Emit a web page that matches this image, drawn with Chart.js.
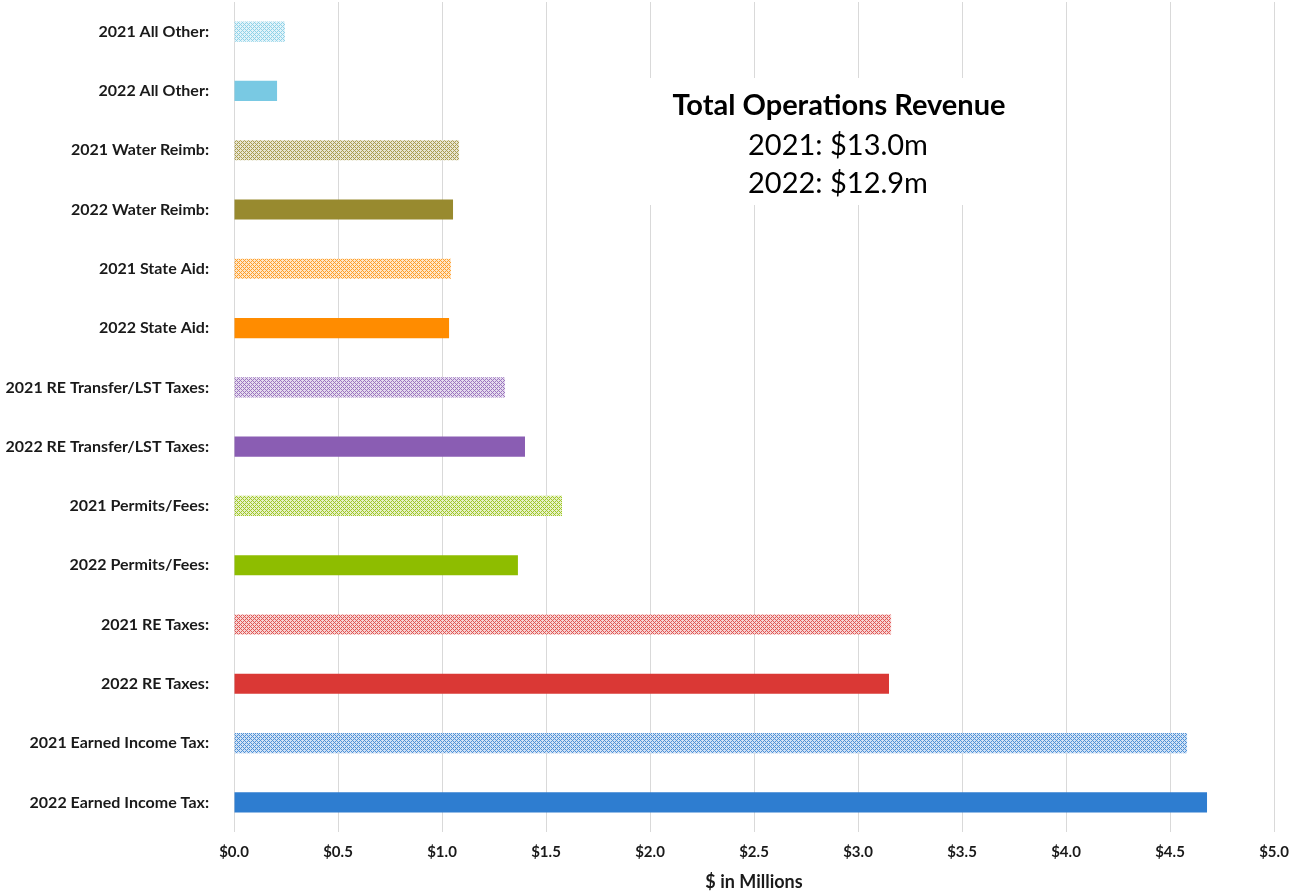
<!DOCTYPE html>
<html>
<head>
<meta charset="utf-8">
<script src="https://cdn.jsdelivr.net/npm/chart.js@4.4.0/dist/chart.umd.min.js"></script>
<style>
  html, body { margin: 0; padding: 0; background: #fff; }
  #wrap { width: 1300px; height: 896px; position: relative; }
</style>
</head>
<body>
<div id="wrap"><canvas id="revChart"></canvas></div>
<script>
// revenue by category, top to bottom
var categories = [
  '2021 All Other:', '2022 All Other:',
  '2021 Water Reimb:', '2022 Water Reimb:',
  '2021 State Aid:', '2022 State Aid:',
  '2021 RE Transfer/LST Taxes:', '2022 RE Transfer/LST Taxes:',
  '2021 Permits/Fees:', '2022 Permits/Fees:',
  '2021 RE Taxes:', '2022 RE Taxes:',
  '2021 Earned Income Tax:', '2022 Earned Income Tax:'
];
var values = [0.245, 0.207, 1.082, 1.053, 1.043, 1.034, 1.303, 1.399, 1.577, 1.365, 3.159, 3.149, 4.582, 4.678];
var xTicks = [0, 0.5, 1, 1.5, 2, 2.5, 3, 3.5, 4, 4.5, 5];
var boxLines = ['Total Operations Revenue', '2021: $13.0m', '2022: $12.9m'];

// colours per pair (2022 solid, 2021 hatched)
var pairColors = ['#79c9e3', '#988a2f', '#ff8c00', '#8a5db3', '#8ebd00', '#da3835', '#2e7dd0'];

function hatch(color){
    var c = document.createElement('canvas');
    c.width = 4; c.height = 4;
    var g = c.getContext('2d');
    g.fillStyle = '#ffffff';
    g.fillRect(0, 0, 4, 4);
    g.fillStyle = color;
    g.globalAlpha = 0.22;
    g.fillRect(0, 0, 4, 4);
    g.globalAlpha = 0.8;
    [[0,0],[1,1],[2,2],[3,3],[1,3],[3,1]].forEach(function(p){
        g.fillRect(p[0], p[1], 1, 1);
    });
    return g.createPattern(c, 'repeat');
}

var barColors = [];
pairColors.forEach(function(col){
    barColors.push(hatch(col));
    barColors.push(col);
});

var fontFam = 'Lato, "Open Sans", sans-serif';

// white text box with the totals
var totalsBox = {
    id: 'totalsBox',
    afterDatasetsDraw: function(chart){
        var ctx = chart.ctx;
        ctx.save();
        ctx.fillStyle = '#fff';
        ctx.fillRect(640, 78, 400, 127);
        ctx.fillStyle = '#000';
        ctx.textAlign = 'center';
        ctx.textBaseline = 'middle';
        ctx.font = 'bold 29px ' + fontFam;
        ctx.fillText(boxLines[0], 839, 106);
        ctx.font = '29px ' + fontFam;
        ctx.fillText(boxLines[1], 838, 146);
        ctx.fillText(boxLines[2], 838, 184);
        ctx.restore();
    }
};

var ctx = document.getElementById('revChart');
var revChart = new Chart(ctx, {
    type: 'bar',
    data: {
        labels: categories,
        datasets: [{
            data: values,
            backgroundColor: barColors,
            barPercentage: 0.34,
            categoryPercentage: 1
        }]
    },
    options: {
        indexAxis: 'y',
        responsive: true,
        maintainAspectRatio: false,
        animation: false,
        layout: { padding: { top: 2, right: 26, bottom: 0, left: 0 } },
        plugins: {
            legend: { display: false },
            tooltip: { enabled: false }
        },
        scales: {
            x: {
                min: 0,
                max: 5,
                afterBuildTicks: function(axis){
                    axis.ticks = xTicks.map(function(v){ return { value: v }; });
                },
                afterFit: function(axis){ axis.height = 64; },
                ticks: {
                    callback: function(v){ return '$' + Number(v).toFixed(1); },
                    color: '#1a1a1a',
                    font: { family: fontFam, size: 15, weight: 'bold' },
                    padding: 11
                },
                grid: { color: '#d9d9d9', drawTicks: false },
                border: { display: false },
                title: {
                    display: true,
                    text: '$ in Millions',
                    color: '#1a1a1a',
                    font: { family: fontFam, size: 18, weight: 'bold' },
                    padding: { top: 4, bottom: 3 }
                }
            },
            y: {
                afterFit: function(axis){
                    axis.width = 234;
                    axis.paddingTop = 0;
                    axis.paddingBottom = 0;
                },
                ticks: {
                    color: '#1a1a1a',
                    font: { family: fontFam, size: 16, weight: 'bold' },
                    padding: 17
                },
                grid: { display: false },
                border: { display: false }
            }
        }
    },
    plugins: [totalsBox]
});
</script>
</body>
</html>
